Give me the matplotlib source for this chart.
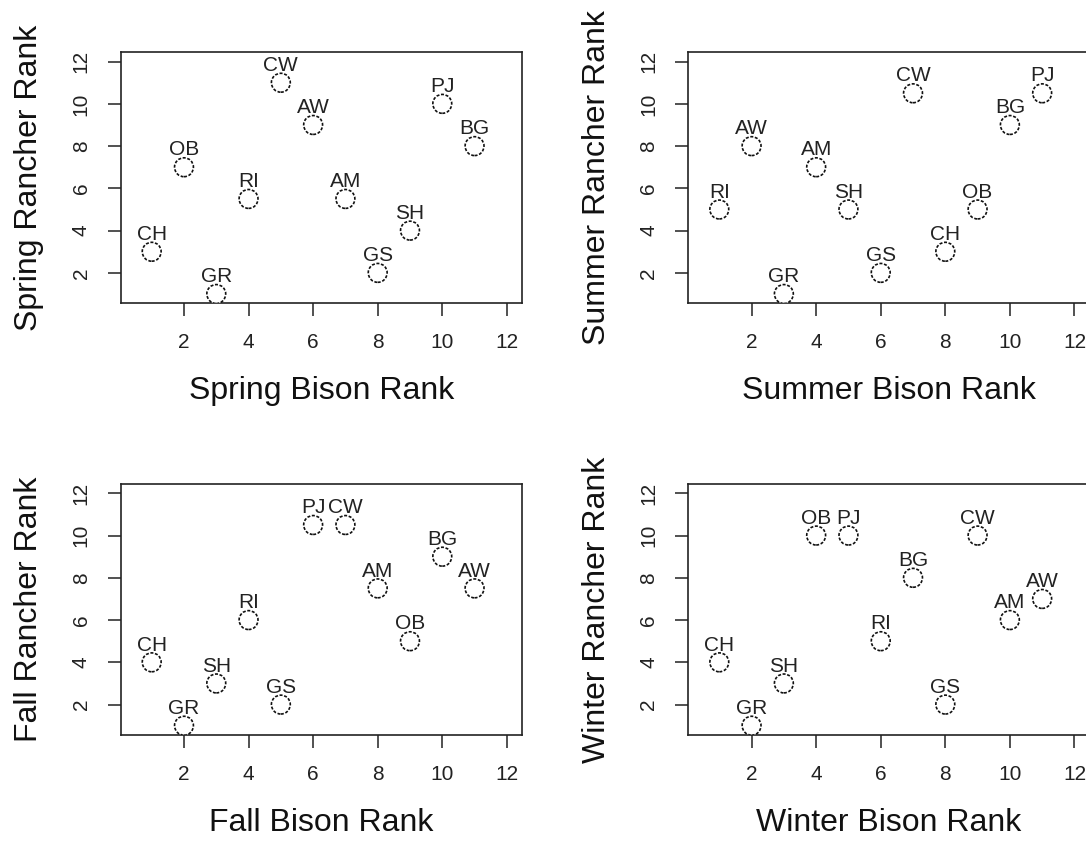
import matplotlib
matplotlib.use("Agg")
import matplotlib.pyplot as plt

plt.rcParams["font.family"] = ["Liberation Sans", "DejaVu Sans"]

# site codes and ranks per season
spring_sites = ["CH", "OB", "GR", "RI", "CW", "AW", "AM", "GS", "SH", "PJ", "BG"]
spring_bison = [1, 2, 3, 4, 5, 6, 7, 8, 9, 10, 11]
spring_rancher = [3, 7, 1, 5.5, 11, 9, 5.5, 2, 4, 10, 8]

summer_sites = ["RI", "AW", "GR", "AM", "SH", "GS", "CW", "CH", "OB", "BG", "PJ"]
summer_bison = [1, 2, 3, 4, 5, 6, 7, 8, 9, 10, 11]
summer_rancher = [5, 8, 1, 7, 5, 2, 10.5, 3, 5, 9, 10.5]

fall_sites = ["CH", "GR", "SH", "RI", "GS", "PJ", "CW", "AM", "OB", "BG", "AW"]
fall_bison = [1, 2, 3, 4, 5, 6, 7, 8, 9, 10, 11]
fall_rancher = [4, 1, 3, 6, 2, 10.5, 10.5, 7.5, 5, 9, 7.5]

winter_sites = ["CH", "GR", "SH", "OB", "PJ", "RI", "BG", "GS", "CW", "AM", "AW"]
winter_bison = [1, 2, 3, 4, 5, 6, 7, 8, 9, 10, 11]
winter_rancher = [4, 1, 3, 10, 10, 5, 8, 2, 10, 6, 7]

ticks = [2, 4, 6, 8, 10, 12]

W, H = 1086, 846
fig = plt.figure(figsize=(W / 100, H / 100), dpi=100)


def panel(left_px, top_px, season, bison, rancher, sites):
    w_px, h_px = 401, 251
    ax = fig.add_axes([left_px / W, 1 - (top_px + h_px) / H, w_px / W, h_px / H])
    ax.scatter(bison, rancher, s=185, facecolors="white", edgecolors="#111111",
               linewidths=1.2, linestyles=(0, (1.8, 1.0)), zorder=3)
    for x, y, lab in zip(bison, rancher, sites):
        ax.annotate(lab, (x, y), xytext=(0, 8.5), textcoords="offset points",
                    ha="center", va="baseline", fontsize=15, color="#222222")
    ax.set_xlim(0.04, 12.46)
    ax.set_ylim(0.56, 12.44)
    ax.set_xticks(ticks)
    ax.set_yticks(ticks)
    ax.tick_params(direction="out", length=9.5, width=1.1, color="#222222",
                   labelsize=15, pad=12, labelcolor="#222222")
    for t in ax.get_yticklabels():
        t.set_rotation(90)
        t.set_va("center")
    for sp in ax.spines.values():
        sp.set_linewidth(1.2)
        sp.set_color("#222222")
    ax.set_xlabel(f"{season} Bison Rank", fontsize=23, va="center", color="#111111")
    ax.xaxis.set_label_coords(0.5, -0.35)
    ax.set_ylabel(f"{season} Rancher Rank", fontsize=23, va="center", color="#111111")
    ax.yaxis.set_label_coords(-0.228, 0.5)
    return ax


panel(120.7, 52.3, "Spring", spring_bison, spring_rancher, spring_sites)
panel(688.3, 52.3, "Summer", summer_bison, summer_rancher, summer_sites)
panel(120.7, 484, "Fall", fall_bison, fall_rancher, fall_sites)
panel(688.3, 484, "Winter", winter_bison, winter_rancher, winter_sites)

fig.savefig("out.png", dpi=100)
